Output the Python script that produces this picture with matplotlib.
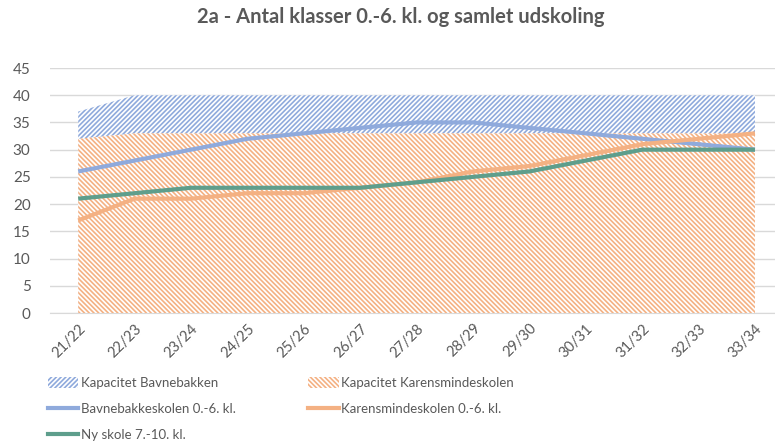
import matplotlib
matplotlib.use("Agg")
import matplotlib.pyplot as plt
from matplotlib.patches import Patch
from matplotlib.lines import Line2D
import numpy as np

categories = ["21/22", "22/23", "23/24", "24/25", "25/26", "26/27", "27/28",
              "28/29", "29/30", "30/31", "31/32", "32/33", "33/34"]
kap_bavne = [37, 40, 40, 40, 40, 40, 40, 40, 40, 40, 40, 40, 40]
kap_karens = [32, 33, 33, 33, 33, 33, 33, 33, 33, 33, 33, 33, 33]
bavne = [26, 28, 30, 32, 33, 34, 35, 35, 34, 33, 32, 31, 30]
karens = [17, 21, 21, 22, 22, 23, 24, 26, 27, 29, 31, 32, 33]
ny_skole = [21, 22, 23, 23, 23, 23, 24, 25, 26, 28, 30, 30, 30]
yticks = [0, 5, 10, 15, 20, 25, 30, 35, 40, 45]

BLUE = "#8FAADC"
ORANGE = "#F4B183"
GREEN = "#5E9E8C"
TXT = "#595959"
HB = "/" * 7
HK = "\\" * 7

plt.rcParams["font.family"] = ["Lato", "DejaVu Sans"]
plt.rcParams["hatch.linewidth"] = 1.2

fig = plt.figure(figsize=(7.75, 4.44), dpi=100)
ax = fig.add_axes([50/775, 131/444, 725/775, 245/444])
x = np.arange(len(categories))

ax.fill_between(x, 0, kap_bavne, facecolor="white", edgecolor=BLUE,
                hatch=HB, linewidth=0, zorder=2)
ax.fill_between(x, 0, kap_karens, facecolor="white", edgecolor=ORANGE,
                hatch=HK, linewidth=0, zorder=3)
ax.plot(x, bavne, color=BLUE, lw=3, solid_capstyle="butt", solid_joinstyle="round", zorder=4)
ax.plot(x, karens, color=ORANGE, lw=3, solid_capstyle="butt", solid_joinstyle="round", zorder=5)
ax.plot(x, ny_skole, color=GREEN, lw=3, solid_capstyle="butt", solid_joinstyle="round", zorder=6)

ax.set_xlim(-0.5, 12.355)
ax.set_ylim(0, 45)
ax.set_yticks(yticks)
ax.set_yticklabels([str(v) for v in yticks], fontsize=11, color=TXT)
ax.set_xticks(x)
ax.set_xticklabels(categories, rotation=45, ha="right", rotation_mode="anchor",
                   fontsize=10.5, color=TXT)
ax.tick_params(axis="y", length=0, pad=14)
ax.tick_params(axis="x", length=0, pad=6)
ax.yaxis.grid(True, color="#D9D9D9", lw=1, zorder=0)
ax.set_axisbelow(True)
for s in ["top", "right", "left"]:
    ax.spines[s].set_visible(False)
ax.spines["bottom"].set_color("#D9D9D9")

fig.text(0.517, 0.962, "2a - Antal klasser 0.-6. kl. og samlet udskoling",
         ha="center", va="center", fontsize=14.5, fontweight="bold", color=TXT)

handles = [
    Patch(facecolor="white", edgecolor=BLUE, hatch=HB, linewidth=0),
    Line2D([], [], color=BLUE, lw=3),
    Line2D([], [], color=GREEN, lw=3),
    Patch(facecolor="white", edgecolor=ORANGE, hatch=HK, linewidth=0),
    Line2D([], [], color=ORANGE, lw=3),
]
labels = ["Kapacitet Bavnebakken", "Bavnebakkeskolen 0.-6. kl.", "Ny skole 7.-10. kl.",
          "Kapacitet Karensmindeskolen", "Karensmindeskolen 0.-6. kl."]
leg = fig.legend(handles, labels, ncol=2, loc="upper left",
                 bbox_to_anchor=(48/775, 1 - 377/444), frameon=False,
                 fontsize=9.5, labelcolor=TXT, handlelength=2.3, handleheight=0.9,
                 handletextpad=0.2, columnspacing=5.5, labelspacing=1.05,
                 borderaxespad=0, borderpad=0)

fig.savefig("out.png", dpi=100)
